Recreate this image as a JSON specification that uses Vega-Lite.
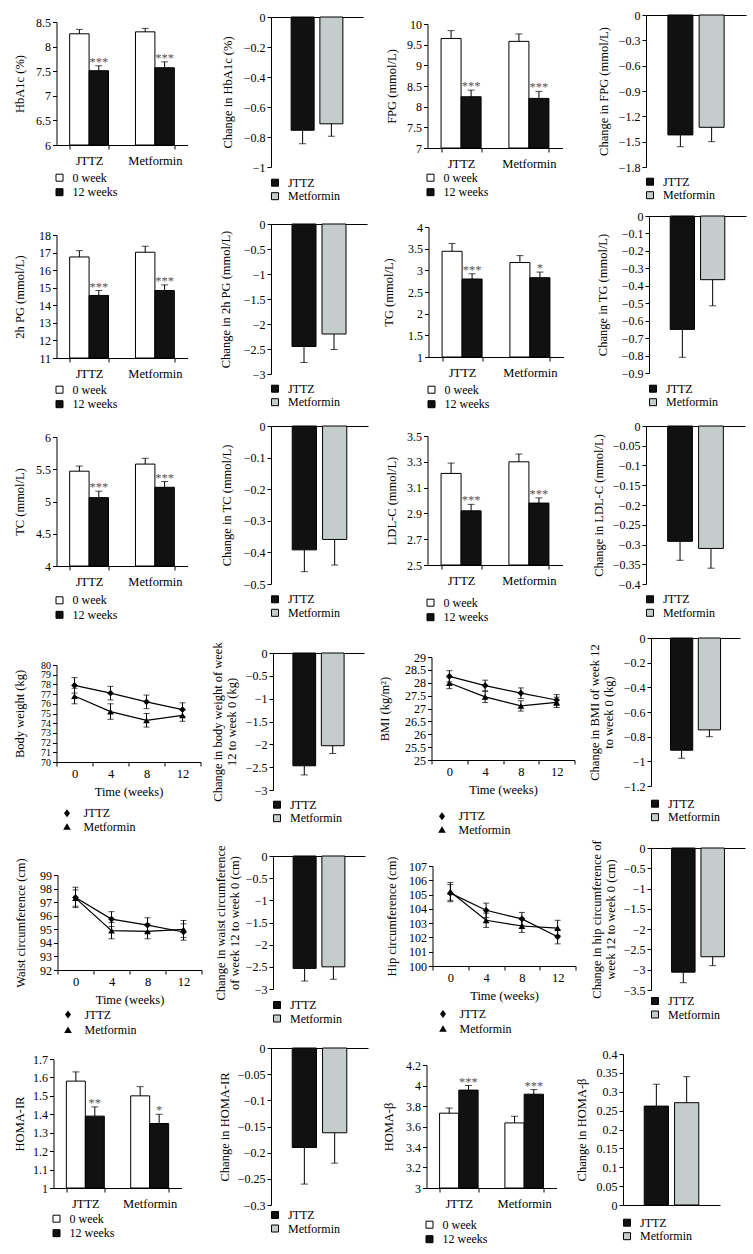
{
"$schema": "https://vega.github.io/schema/vega-lite/v6.json",
"padding": {"left": 12.5, "top": 0, "right": 0, "bottom": 0},
"autosize": {"type": "pad"},
"background": "white",
"config": {
  "font": "Liberation Serif",
  "view": {"stroke": null},
  "axis": {"domainColor": "#000000", "tickColor": "#000000", "labelColor": "#000000", "titleColor": "#000000", "labelFont": "Liberation Serif", "titleFont": "Liberation Serif", "labelFontSize": 12, "titleFontSize": 12.5, "titleFontWeight": "normal", "grid": false, "tickSize": 4, "labelPadding": 2, "labelOverlap": false, "domainWidth": 1, "tickWidth": 1, "titleLineHeight": 14},
  "legend": {"labelFont": "Liberation Serif", "labelFontSize": 12, "labelColor": "#000000", "symbolType": "square", "symbolStrokeColor": "#000000", "symbolStrokeWidth": 1, "padding": 0, "direction": "vertical"}
},
"datasets": {
  "grouped": [
    {"panel":"HbA1c","group":"JTTZ","time":"0 week","value":8.26,"top":8.35,"sig":""},
    {"panel":"HbA1c","group":"JTTZ","time":"12 weeks","value":7.51,"top":7.61,"sig":"***"},
    {"panel":"HbA1c","group":"Metformin","time":"0 week","value":8.30,"top":8.37,"sig":""},
    {"panel":"HbA1c","group":"Metformin","time":"12 weeks","value":7.57,"top":7.69,"sig":"***"},
    {"panel":"FPG","group":"JTTZ","time":"0 week","value":9.65,"top":9.84,"sig":""},
    {"panel":"FPG","group":"JTTZ","time":"12 weeks","value":8.24,"top":8.40,"sig":"***"},
    {"panel":"FPG","group":"Metformin","time":"0 week","value":9.58,"top":9.76,"sig":""},
    {"panel":"FPG","group":"Metformin","time":"12 weeks","value":8.20,"top":8.37,"sig":"***"},
    {"panel":"2hPG","group":"JTTZ","time":"0 week","value":16.75,"top":17.11,"sig":""},
    {"panel":"2hPG","group":"JTTZ","time":"12 weeks","value":14.56,"top":14.84,"sig":"***"},
    {"panel":"2hPG","group":"Metformin","time":"0 week","value":17.02,"top":17.36,"sig":""},
    {"panel":"2hPG","group":"Metformin","time":"12 weeks","value":14.84,"top":15.16,"sig":"***"},
    {"panel":"TG","group":"JTTZ","time":"0 week","value":3.44,"top":3.62,"sig":""},
    {"panel":"TG","group":"JTTZ","time":"12 weeks","value":2.80,"top":2.92,"sig":"***"},
    {"panel":"TG","group":"Metformin","time":"0 week","value":3.18,"top":3.34,"sig":""},
    {"panel":"TG","group":"Metformin","time":"12 weeks","value":2.83,"top":2.96,"sig":"*"},
    {"panel":"TC","group":"JTTZ","time":"0 week","value":5.47,"top":5.55,"sig":""},
    {"panel":"TC","group":"JTTZ","time":"12 weeks","value":5.06,"top":5.16,"sig":"***"},
    {"panel":"TC","group":"Metformin","time":"0 week","value":5.58,"top":5.67,"sig":""},
    {"panel":"TC","group":"Metformin","time":"12 weeks","value":5.22,"top":5.31,"sig":"***"},
    {"panel":"LDL","group":"JTTZ","time":"0 week","value":3.21,"top":3.29,"sig":""},
    {"panel":"LDL","group":"JTTZ","time":"12 weeks","value":2.92,"top":2.97,"sig":"***"},
    {"panel":"LDL","group":"Metformin","time":"0 week","value":3.30,"top":3.36,"sig":""},
    {"panel":"LDL","group":"Metformin","time":"12 weeks","value":2.98,"top":3.02,"sig":"***"},
    {"panel":"HOMAIR","group":"JTTZ","time":"0 week","value":1.58,"top":1.63,"sig":""},
    {"panel":"HOMAIR","group":"JTTZ","time":"12 weeks","value":1.39,"top":1.44,"sig":"**"},
    {"panel":"HOMAIR","group":"Metformin","time":"0 week","value":1.50,"top":1.55,"sig":""},
    {"panel":"HOMAIR","group":"Metformin","time":"12 weeks","value":1.35,"top":1.40,"sig":"*"},
    {"panel":"HOMAB","group":"JTTZ","time":"0 week","value":3.73,"top":3.78,"sig":""},
    {"panel":"HOMAB","group":"JTTZ","time":"12 weeks","value":3.955,"top":4.00,"sig":"***"},
    {"panel":"HOMAB","group":"Metformin","time":"0 week","value":3.635,"top":3.70,"sig":""},
    {"panel":"HOMAB","group":"Metformin","time":"12 weeks","value":3.915,"top":3.96,"sig":"***"}
  ],
  "change": [
    {"panel":"HbA1c","group":"JTTZ","value":-0.755,"end":-0.845},
    {"panel":"HbA1c","group":"Metformin","value":-0.712,"end":-0.795},
    {"panel":"FPG","group":"JTTZ","value":-1.42,"end":-1.56},
    {"panel":"FPG","group":"Metformin","value":-1.33,"end":-1.50},
    {"panel":"2hPG","group":"JTTZ","value":-2.45,"end":-2.77},
    {"panel":"2hPG","group":"Metformin","value":-2.20,"end":-2.51},
    {"panel":"TG","group":"JTTZ","value":-0.65,"end":-0.81},
    {"panel":"TG","group":"Metformin","value":-0.365,"end":-0.515},
    {"panel":"TC","group":"JTTZ","value":-0.392,"end":-0.461},
    {"panel":"TC","group":"Metformin","value":-0.359,"end":-0.44},
    {"panel":"LDL","group":"JTTZ","value":-0.292,"end":-0.34},
    {"panel":"LDL","group":"Metformin","value":-0.31,"end":-0.36},
    {"panel":"BW","group":"JTTZ","value":-2.47,"end":-2.67},
    {"panel":"BW","group":"Metformin","value":-2.03,"end":-2.20},
    {"panel":"BMI","group":"JTTZ","value":-0.91,"end":-0.975},
    {"panel":"BMI","group":"Metformin","value":-0.745,"end":-0.80},
    {"panel":"Waist","group":"JTTZ","value":-2.535,"end":-2.82},
    {"panel":"Waist","group":"Metformin","value":-2.50,"end":-2.78},
    {"panel":"Hip","group":"JTTZ","value":-3.06,"end":-3.32},
    {"panel":"Hip","group":"Metformin","value":-2.68,"end":-2.90},
    {"panel":"HOMAIR","group":"JTTZ","value":-0.19,"end":-0.26},
    {"panel":"HOMAIR","group":"Metformin","value":-0.162,"end":-0.22},
    {"panel":"HOMAB","group":"JTTZ","value":0.262,"end":0.32},
    {"panel":"HOMAB","group":"Metformin","value":0.271,"end":0.34}
  ],
  "lines": [
    {"panel":"BW","week":0,"group":"JTTZ","value":77.9,"lo":77.1,"hi":78.7},
    {"panel":"BW","week":4,"group":"JTTZ","value":77.1,"lo":76.4,"hi":77.8},
    {"panel":"BW","week":8,"group":"JTTZ","value":76.2,"lo":75.5,"hi":76.9},
    {"panel":"BW","week":12,"group":"JTTZ","value":75.4,"lo":74.7,"hi":76.1},
    {"panel":"BW","week":0,"group":"Metformin","value":76.8,"lo":76.0,"hi":77.6},
    {"panel":"BW","week":4,"group":"Metformin","value":75.2,"lo":74.4,"hi":76.0},
    {"panel":"BW","week":8,"group":"Metformin","value":74.3,"lo":73.6,"hi":75.0},
    {"panel":"BW","week":12,"group":"Metformin","value":74.8,"lo":74.2,"hi":75.4},
    {"panel":"BMI","week":0,"group":"JTTZ","value":28.25,"lo":28.03,"hi":28.47},
    {"panel":"BMI","week":4,"group":"JTTZ","value":27.89,"lo":27.68,"hi":28.1},
    {"panel":"BMI","week":8,"group":"JTTZ","value":27.6,"lo":27.39,"hi":27.8},
    {"panel":"BMI","week":12,"group":"JTTZ","value":27.33,"lo":27.12,"hi":27.54},
    {"panel":"BMI","week":0,"group":"Metformin","value":27.99,"lo":27.77,"hi":28.21},
    {"panel":"BMI","week":4,"group":"Metformin","value":27.45,"lo":27.23,"hi":27.67},
    {"panel":"BMI","week":8,"group":"Metformin","value":27.1,"lo":26.9,"hi":27.3},
    {"panel":"BMI","week":12,"group":"Metformin","value":27.24,"lo":27.04,"hi":27.44},
    {"panel":"Waist","week":0,"group":"JTTZ","value":97.35,"lo":96.6,"hi":98.1},
    {"panel":"Waist","week":4,"group":"JTTZ","value":95.75,"lo":95.2,"hi":96.3},
    {"panel":"Waist","week":8,"group":"JTTZ","value":95.3,"lo":94.8,"hi":95.85},
    {"panel":"Waist","week":12,"group":"JTTZ","value":94.8,"lo":94.2,"hi":95.4},
    {"panel":"Waist","week":0,"group":"Metformin","value":97.3,"lo":96.7,"hi":97.9},
    {"panel":"Waist","week":4,"group":"Metformin","value":94.9,"lo":94.3,"hi":95.5},
    {"panel":"Waist","week":8,"group":"Metformin","value":94.85,"lo":94.3,"hi":95.4},
    {"panel":"Waist","week":12,"group":"Metformin","value":95.0,"lo":94.4,"hi":95.65},
    {"panel":"Hip","week":0,"group":"JTTZ","value":105.1,"lo":104.5,"hi":105.7},
    {"panel":"Hip","week":4,"group":"JTTZ","value":103.9,"lo":103.4,"hi":104.4},
    {"panel":"Hip","week":8,"group":"JTTZ","value":103.3,"lo":102.85,"hi":103.75},
    {"panel":"Hip","week":12,"group":"JTTZ","value":102.05,"lo":101.55,"hi":102.55},
    {"panel":"Hip","week":0,"group":"Metformin","value":105.2,"lo":104.6,"hi":105.85},
    {"panel":"Hip","week":4,"group":"Metformin","value":103.2,"lo":102.7,"hi":103.7},
    {"panel":"Hip","week":8,"group":"Metformin","value":102.8,"lo":102.35,"hi":103.25},
    {"panel":"Hip","week":12,"group":"Metformin","value":102.65,"lo":102.15,"hi":103.2}
  ],
  "blank": [{"k": 1}]
},
"spacing": 0,
"resolve": {"scale": {"fill": "independent", "shape": "independent", "xOffset": "independent", "opacity": "independent", "strokeWidth": "independent", "strokeDash": "independent"}},
"vconcat": [
{"spacing": 0, "resolve": {"scale": {"fill": "independent", "shape": "independent", "xOffset": "independent", "opacity": "independent", "strokeWidth": "independent", "strokeDash": "independent"}}, "hconcat": [
 {"width": 1, "height": 206.5, "data": {"name": "blank"}, "mark": {"type": "point", "opacity": 0, "size": 0, "strokeWidth": 0}},
 {"spacing": 33.5, "resolve": {"scale": {"fill": "independent", "shape": "independent", "xOffset": "independent", "opacity": "independent", "strokeWidth": "independent", "strokeDash": "independent"}}, "hconcat": [
 {"spacing": 0, "resolve": {"scale": {"fill": "independent", "shape": "independent", "xOffset": "independent", "opacity": "independent", "strokeWidth": "independent", "strokeDash": "independent"}}, "vconcat": [
  {"width": 1, "height": 15.8, "data": {"name": "blank"}, "mark": {"type": "point", "opacity": 0, "size": 0, "strokeWidth": 0}},
  {"width": 131, "height": 123,
   "data": {"name": "grouped"}, "transform": [{"filter": "datum.panel == 'HbA1c'"}],
   "encoding": {"x": {"field": "group", "type": "nominal", "sort": ["JTTZ", "Metformin"], "scale": {"paddingInner": 0.41, "paddingOuter": 0.2}, "axis": {"title": null, "labelAngle": 0, "tickBand": "extent", "labelPadding": 5, "labelFontSize": 12.5}},
                "xOffset": {"field": "time", "type": "nominal", "sort": ["0 week", "12 weeks"]}},
   "layer": [
    {"mark": {"type": "bar", "stroke": "#000000", "strokeWidth": 1}, "encoding": {"y": {"field": "value", "type": "quantitative", "scale": {"domain": [6, 8.5], "nice": false, "zero": false}, "axis": {"title": "HbA1c (%)", "values": [6, 6.5, 7, 7.5, 8, 8.5], "tickCount": 100, "format": ".2~f", "labelOverlap": false, "minExtent": 30, "maxExtent": 30, "titlePadding": 0}}, "y2": {"datum": 6},
      "fill": {"field": "time", "type": "nominal", "sort": ["0 week", "12 weeks"], "scale": {"range": ["#ffffff", "#111111"]}, "legend": {"title": null, "orient": "none", "legendX": -3, "legendY": 149.7, "rowPadding": 2.5, "labelOffset": 7, "symbolSize": 49}}}},
    {"mark": {"type": "rule", "color": "#000000"}, "encoding": {"y": {"field": "value", "type": "quantitative"}, "y2": {"field": "top"}}},
    {"mark": {"type": "tick", "color": "#000000", "size": 7, "thickness": 1}, "encoding": {"y": {"field": "top", "type": "quantitative"}}},
    {"transform": [{"filter": "datum.sig != ''"}], "mark": {"type": "text", "baseline": "alphabetic", "fontSize": 12.5, "color": "#555555", "font": "Liberation Serif"}, "encoding": {"y": {"field": "top", "type": "quantitative"}, "text": {"field": "sig", "type": "nominal"}}}
   ]}
 ]},
 {"spacing": 22.5, "resolve": {"scale": {"fill": "independent", "shape": "independent", "xOffset": "independent", "opacity": "independent", "strokeWidth": "independent", "strokeDash": "independent"}}, "hconcat": [
  {"spacing": 0, "resolve": {"scale": {"fill": "independent", "shape": "independent", "xOffset": "independent", "opacity": "independent", "strokeWidth": "independent", "strokeDash": "independent"}}, "vconcat": [
   {"width": 1, "height": 10.8, "data": {"name": "blank"}, "mark": {"type": "point", "opacity": 0, "size": 0, "strokeWidth": 0}},
   {"width": 92, "height": 150,
    "data": {"name": "change"}, "transform": [{"filter": "datum.panel == 'HbA1c'"}],
    "encoding": {"x": {"field": "group", "type": "nominal", "sort": ["JTTZ", "Metformin"], "scale": {"paddingInner": 0.2, "paddingOuter": 0.7}, "axis": {"orient": "top", "title": null, "labels": false, "ticks": false}}},
    "layer": [
     {"mark": {"type": "bar", "stroke": "#000000", "strokeWidth": 1}, "encoding": {"y": {"field": "value", "type": "quantitative", "scale": {"domain": [-1, 0], "nice": false}, "axis": {"title": "Change in HbA1c (%)", "values": [0, -0.2, -0.4, -0.6, -0.8, -1], "tickCount": 100, "format": ".2~f", "labelOverlap": false, "minExtent": 37, "maxExtent": 37, "titlePadding": 0}},
       "fill": {"field": "group", "type": "nominal", "sort": ["JTTZ", "Metformin"], "scale": {"range": ["#111111", "#c5cdcc"]}, "legend": {"title": null, "orient": "none", "legendX": -2, "legendY": 159.7, "rowPadding": 1.5, "labelOffset": 7, "symbolSize": 49}}}},
     {"mark": {"type": "rule", "color": "#000000"}, "encoding": {"y": {"field": "value", "type": "quantitative"}, "y2": {"field": "end"}}},
     {"mark": {"type": "tick", "color": "#000000", "size": 7, "thickness": 1}, "encoding": {"y": {"field": "end", "type": "quantitative"}}}
    ]}
  ]},
  {"spacing": 33.5, "resolve": {"scale": {"fill": "independent", "shape": "independent", "xOffset": "independent", "opacity": "independent", "strokeWidth": "independent", "strokeDash": "independent"}}, "hconcat": [
   {"spacing": 0, "resolve": {"scale": {"fill": "independent", "shape": "independent", "xOffset": "independent", "opacity": "independent", "strokeWidth": "independent", "strokeDash": "independent"}}, "vconcat": [
    {"width": 1, "height": 17.8, "data": {"name": "blank"}, "mark": {"type": "point", "opacity": 0, "size": 0, "strokeWidth": 0}},
    {"width": 135, "height": 124,
     "data": {"name": "grouped"}, "transform": [{"filter": "datum.panel == 'FPG'"}],
     "encoding": {"x": {"field": "group", "type": "nominal", "sort": ["JTTZ", "Metformin"], "scale": {"paddingInner": 0.41, "paddingOuter": 0.2}, "axis": {"title": null, "labelAngle": 0, "tickBand": "extent", "labelPadding": 5, "labelFontSize": 12.5}},
                  "xOffset": {"field": "time", "type": "nominal", "sort": ["0 week", "12 weeks"]}},
     "layer": [
      {"mark": {"type": "bar", "stroke": "#000000", "strokeWidth": 1}, "encoding": {"y": {"field": "value", "type": "quantitative", "scale": {"domain": [7, 10], "nice": false, "zero": false}, "axis": {"title": "FPG (mmol/L)", "values": [7, 7.5, 8, 8.5, 9, 9.5, 10], "tickCount": 100, "format": ".2~f", "labelOverlap": false, "minExtent": 29, "maxExtent": 29, "titlePadding": 0}}, "y2": {"datum": 7},
        "fill": {"field": "time", "type": "nominal", "sort": ["0 week", "12 weeks"], "scale": {"range": ["#ffffff", "#111111"]}, "legend": {"title": null, "orient": "none", "legendX": -3, "legendY": 147.7, "rowPadding": 2.5, "labelOffset": 7, "symbolSize": 49}}}},
      {"mark": {"type": "rule", "color": "#000000"}, "encoding": {"y": {"field": "value", "type": "quantitative"}, "y2": {"field": "top"}}},
      {"mark": {"type": "tick", "color": "#000000", "size": 7, "thickness": 1}, "encoding": {"y": {"field": "top", "type": "quantitative"}}},
      {"transform": [{"filter": "datum.sig != ''"}], "mark": {"type": "text", "baseline": "alphabetic", "fontSize": 12.5, "color": "#555555", "font": "Liberation Serif"}, "encoding": {"y": {"field": "top", "type": "quantitative"}, "text": {"field": "sig", "type": "nominal"}}}
     ]}
   ]},
   {"spacing": 0, "resolve": {"scale": {"fill": "independent", "shape": "independent", "xOffset": "independent", "opacity": "independent", "strokeWidth": "independent", "strokeDash": "independent"}}, "vconcat": [
    {"width": 1, "height": 8.8, "data": {"name": "blank"}, "mark": {"type": "point", "opacity": 0, "size": 0, "strokeWidth": 0}},
    {"width": 100, "height": 152,
     "data": {"name": "change"}, "transform": [{"filter": "datum.panel == 'FPG'"}],
     "encoding": {"x": {"field": "group", "type": "nominal", "sort": ["JTTZ", "Metformin"], "scale": {"paddingInner": 0.2, "paddingOuter": 0.7}, "axis": {"orient": "top", "title": null, "labels": false, "ticks": false}}},
     "layer": [
      {"mark": {"type": "bar", "stroke": "#000000", "strokeWidth": 1}, "encoding": {"y": {"field": "value", "type": "quantitative", "scale": {"domain": [-1.8, 0], "nice": false}, "axis": {"title": "Change in FPG (mmol/L)", "values": [0, -0.3, -0.6, -0.9, -1.2, -1.5, -1.8], "tickCount": 100, "format": ".2~f", "labelOverlap": false, "minExtent": 36, "maxExtent": 36, "titlePadding": 0}},
        "fill": {"field": "group", "type": "nominal", "sort": ["JTTZ", "Metformin"], "scale": {"range": ["#111111", "#c5cdcc"]}, "legend": {"title": null, "orient": "none", "legendX": -2, "legendY": 160.7, "rowPadding": 1.5, "labelOffset": 7, "symbolSize": 49}}}},
      {"mark": {"type": "rule", "color": "#000000"}, "encoding": {"y": {"field": "value", "type": "quantitative"}, "y2": {"field": "end"}}},
      {"mark": {"type": "tick", "color": "#000000", "size": 7, "thickness": 1}, "encoding": {"y": {"field": "end", "type": "quantitative"}}}
     ]}
   ]}
  ]}
 ]}
 ]}
]},
{"spacing": 0, "resolve": {"scale": {"fill": "independent", "shape": "independent", "xOffset": "independent", "opacity": "independent", "strokeWidth": "independent", "strokeDash": "independent"}}, "hconcat": [
 {"width": 1, "height": 206.5, "data": {"name": "blank"}, "mark": {"type": "point", "opacity": 0, "size": 0, "strokeWidth": 0}},
 {"spacing": 30.5, "resolve": {"scale": {"fill": "independent", "shape": "independent", "xOffset": "independent", "opacity": "independent", "strokeWidth": "independent", "strokeDash": "independent"}}, "hconcat": [
 {"spacing": 0, "resolve": {"scale": {"fill": "independent", "shape": "independent", "xOffset": "independent", "opacity": "independent", "strokeWidth": "independent", "strokeDash": "independent"}}, "vconcat": [
  {"width": 1, "height": 21.8, "data": {"name": "blank"}, "mark": {"type": "point", "opacity": 0, "size": 0, "strokeWidth": 0}},
  {"width": 131, "height": 123,
   "data": {"name": "grouped"}, "transform": [{"filter": "datum.panel == '2hPG'"}],
   "encoding": {"x": {"field": "group", "type": "nominal", "sort": ["JTTZ", "Metformin"], "scale": {"paddingInner": 0.41, "paddingOuter": 0.2}, "axis": {"title": null, "labelAngle": 0, "tickBand": "extent", "labelPadding": 5, "labelFontSize": 12.5}},
                "xOffset": {"field": "time", "type": "nominal", "sort": ["0 week", "12 weeks"]}},
   "layer": [
    {"mark": {"type": "bar", "stroke": "#000000", "strokeWidth": 1}, "encoding": {"y": {"field": "value", "type": "quantitative", "scale": {"domain": [11, 18], "nice": false, "zero": false}, "axis": {"title": "2h PG (mmol/L)", "values": [11, 12, 13, 14, 15, 16, 17, 18], "tickCount": 100, "format": ".2~f", "labelOverlap": false, "minExtent": 30, "maxExtent": 30, "titlePadding": 0}}, "y2": {"datum": 11},
      "fill": {"field": "time", "type": "nominal", "sort": ["0 week", "12 weeks"], "scale": {"range": ["#ffffff", "#111111"]}, "legend": {"title": null, "orient": "none", "legendX": -3, "legendY": 148.7, "rowPadding": 2.5, "labelOffset": 7, "symbolSize": 49}}}},
    {"mark": {"type": "rule", "color": "#000000"}, "encoding": {"y": {"field": "value", "type": "quantitative"}, "y2": {"field": "top"}}},
    {"mark": {"type": "tick", "color": "#000000", "size": 7, "thickness": 1}, "encoding": {"y": {"field": "top", "type": "quantitative"}}},
    {"transform": [{"filter": "datum.sig != ''"}], "mark": {"type": "text", "baseline": "alphabetic", "fontSize": 12.5, "color": "#555555", "font": "Liberation Serif"}, "encoding": {"y": {"field": "top", "type": "quantitative"}, "text": {"field": "sig", "type": "nominal"}}}
   ]}
 ]},
 {"spacing": 15.5, "resolve": {"scale": {"fill": "independent", "shape": "independent", "xOffset": "independent", "opacity": "independent", "strokeWidth": "independent", "strokeDash": "independent"}}, "hconcat": [
  {"spacing": 0, "resolve": {"scale": {"fill": "independent", "shape": "independent", "xOffset": "independent", "opacity": "independent", "strokeWidth": "independent", "strokeDash": "independent"}}, "vconcat": [
   {"width": 1, "height": 10.8, "data": {"name": "blank"}, "mark": {"type": "point", "opacity": 0, "size": 0, "strokeWidth": 0}},
   {"width": 96, "height": 150,
    "data": {"name": "change"}, "transform": [{"filter": "datum.panel == '2hPG'"}],
    "encoding": {"x": {"field": "group", "type": "nominal", "sort": ["JTTZ", "Metformin"], "scale": {"paddingInner": 0.2, "paddingOuter": 0.7}, "axis": {"orient": "top", "title": null, "labels": false, "ticks": false}}},
    "layer": [
     {"mark": {"type": "bar", "stroke": "#000000", "strokeWidth": 1}, "encoding": {"y": {"field": "value", "type": "quantitative", "scale": {"domain": [-3, 0], "nice": false}, "axis": {"title": "Change in 2h PG (mmol/L)", "values": [0, -0.5, -1, -1.5, -2, -2.5, -3], "tickCount": 100, "format": ".2~f", "labelOverlap": false, "minExtent": 39, "maxExtent": 39, "titlePadding": 0}},
       "fill": {"field": "group", "type": "nominal", "sort": ["JTTZ", "Metformin"], "scale": {"range": ["#111111", "#c5cdcc"]}, "legend": {"title": null, "orient": "none", "legendX": -2, "legendY": 158.7, "rowPadding": 1.5, "labelOffset": 7, "symbolSize": 49}}}},
     {"mark": {"type": "rule", "color": "#000000"}, "encoding": {"y": {"field": "value", "type": "quantitative"}, "y2": {"field": "end"}}},
     {"mark": {"type": "tick", "color": "#000000", "size": 7, "thickness": 1}, "encoding": {"y": {"field": "end", "type": "quantitative"}}}
    ]}
  ]},
  {"spacing": 32.5, "resolve": {"scale": {"fill": "independent", "shape": "independent", "xOffset": "independent", "opacity": "independent", "strokeWidth": "independent", "strokeDash": "independent"}}, "hconcat": [
   {"spacing": 0, "resolve": {"scale": {"fill": "independent", "shape": "independent", "xOffset": "independent", "opacity": "independent", "strokeWidth": "independent", "strokeDash": "independent"}}, "vconcat": [
    {"width": 1, "height": 13.8, "data": {"name": "blank"}, "mark": {"type": "point", "opacity": 0, "size": 0, "strokeWidth": 0}},
    {"width": 135, "height": 130,
     "data": {"name": "grouped"}, "transform": [{"filter": "datum.panel == 'TG'"}],
     "encoding": {"x": {"field": "group", "type": "nominal", "sort": ["JTTZ", "Metformin"], "scale": {"paddingInner": 0.41, "paddingOuter": 0.2}, "axis": {"title": null, "labelAngle": 0, "tickBand": "extent", "labelPadding": 5, "labelFontSize": 12.5}},
                  "xOffset": {"field": "time", "type": "nominal", "sort": ["0 week", "12 weeks"]}},
     "layer": [
      {"mark": {"type": "bar", "stroke": "#000000", "strokeWidth": 1}, "encoding": {"y": {"field": "value", "type": "quantitative", "scale": {"domain": [1, 4], "nice": false, "zero": false}, "axis": {"title": "TG (mmol/L)", "values": [1, 1.5, 2, 2.5, 3, 3.5, 4], "tickCount": 100, "format": ".2~f", "labelOverlap": false, "minExtent": 33, "maxExtent": 33, "titlePadding": 0}}, "y2": {"datum": 1},
        "fill": {"field": "time", "type": "nominal", "sort": ["0 week", "12 weeks"], "scale": {"range": ["#ffffff", "#111111"]}, "legend": {"title": null, "orient": "none", "legendX": -3, "legendY": 156.7, "rowPadding": 2.5, "labelOffset": 7, "symbolSize": 49}}}},
      {"mark": {"type": "rule", "color": "#000000"}, "encoding": {"y": {"field": "value", "type": "quantitative"}, "y2": {"field": "top"}}},
      {"mark": {"type": "tick", "color": "#000000", "size": 7, "thickness": 1}, "encoding": {"y": {"field": "top", "type": "quantitative"}}},
      {"transform": [{"filter": "datum.sig != ''"}], "mark": {"type": "text", "baseline": "alphabetic", "fontSize": 12.5, "color": "#555555", "font": "Liberation Serif"}, "encoding": {"y": {"field": "top", "type": "quantitative"}, "text": {"field": "sig", "type": "nominal"}}}
     ]}
   ]},
   {"spacing": 0, "resolve": {"scale": {"fill": "independent", "shape": "independent", "xOffset": "independent", "opacity": "independent", "strokeWidth": "independent", "strokeDash": "independent"}}, "vconcat": [
    {"width": 1, "height": 2.8, "data": {"name": "blank"}, "mark": {"type": "point", "opacity": 0, "size": 0, "strokeWidth": 0}},
    {"width": 97, "height": 157,
     "data": {"name": "change"}, "transform": [{"filter": "datum.panel == 'TG'"}],
     "encoding": {"x": {"field": "group", "type": "nominal", "sort": ["JTTZ", "Metformin"], "scale": {"paddingInner": 0.2, "paddingOuter": 0.7}, "axis": {"orient": "top", "title": null, "labels": false, "ticks": false}}},
     "layer": [
      {"mark": {"type": "bar", "stroke": "#000000", "strokeWidth": 1}, "encoding": {"y": {"field": "value", "type": "quantitative", "scale": {"domain": [-0.9, 0], "nice": false}, "axis": {"title": "Change in TG (mmol/L)", "values": [0, -0.1, -0.2, -0.3, -0.4, -0.5, -0.6, -0.7, -0.8, -0.9], "tickCount": 100, "format": ".2~f", "labelOverlap": false, "minExtent": 40, "maxExtent": 40, "titlePadding": 0}},
        "fill": {"field": "group", "type": "nominal", "sort": ["JTTZ", "Metformin"], "scale": {"range": ["#111111", "#c5cdcc"]}, "legend": {"title": null, "orient": "none", "legendX": -2, "legendY": 166.7, "rowPadding": 1.5, "labelOffset": 7, "symbolSize": 49}}}},
      {"mark": {"type": "rule", "color": "#000000"}, "encoding": {"y": {"field": "value", "type": "quantitative"}, "y2": {"field": "end"}}},
      {"mark": {"type": "tick", "color": "#000000", "size": 7, "thickness": 1}, "encoding": {"y": {"field": "end", "type": "quantitative"}}}
     ]}
   ]}
  ]}
 ]}
 ]}
]},
{"spacing": 0, "resolve": {"scale": {"fill": "independent", "shape": "independent", "xOffset": "independent", "opacity": "independent", "strokeWidth": "independent", "strokeDash": "independent"}}, "hconcat": [
 {"width": 1, "height": 214, "data": {"name": "blank"}, "mark": {"type": "point", "opacity": 0, "size": 0, "strokeWidth": 0}},
 {"spacing": 32.5, "resolve": {"scale": {"fill": "independent", "shape": "independent", "xOffset": "independent", "opacity": "independent", "strokeWidth": "independent", "strokeDash": "independent"}}, "hconcat": [
 {"spacing": 0, "resolve": {"scale": {"fill": "independent", "shape": "independent", "xOffset": "independent", "opacity": "independent", "strokeWidth": "independent", "strokeDash": "independent"}}, "vconcat": [
  {"width": 1, "height": 16.8, "data": {"name": "blank"}, "mark": {"type": "point", "opacity": 0, "size": 0, "strokeWidth": 0}},
  {"width": 131, "height": 129,
   "data": {"name": "grouped"}, "transform": [{"filter": "datum.panel == 'TC'"}],
   "encoding": {"x": {"field": "group", "type": "nominal", "sort": ["JTTZ", "Metformin"], "scale": {"paddingInner": 0.41, "paddingOuter": 0.2}, "axis": {"title": null, "labelAngle": 0, "tickBand": "extent", "labelPadding": 5, "labelFontSize": 12.5}},
                "xOffset": {"field": "time", "type": "nominal", "sort": ["0 week", "12 weeks"]}},
   "layer": [
    {"mark": {"type": "bar", "stroke": "#000000", "strokeWidth": 1}, "encoding": {"y": {"field": "value", "type": "quantitative", "scale": {"domain": [4, 6], "nice": false, "zero": false}, "axis": {"title": "TC (mmol/L)", "values": [4, 4.5, 5, 5.5, 6], "tickCount": 100, "format": ".2~f", "labelOverlap": false, "minExtent": 30, "maxExtent": 30, "titlePadding": 0}}, "y2": {"datum": 4},
      "fill": {"field": "time", "type": "nominal", "sort": ["0 week", "12 weeks"], "scale": {"range": ["#ffffff", "#111111"]}, "legend": {"title": null, "orient": "none", "legendX": -3, "legendY": 157.3, "rowPadding": 2.5, "labelOffset": 7, "symbolSize": 49}}}},
    {"mark": {"type": "rule", "color": "#000000"}, "encoding": {"y": {"field": "value", "type": "quantitative"}, "y2": {"field": "top"}}},
    {"mark": {"type": "tick", "color": "#000000", "size": 7, "thickness": 1}, "encoding": {"y": {"field": "top", "type": "quantitative"}}},
    {"transform": [{"filter": "datum.sig != ''"}], "mark": {"type": "text", "baseline": "alphabetic", "fontSize": 12.5, "color": "#555555", "font": "Liberation Serif"}, "encoding": {"y": {"field": "top", "type": "quantitative"}, "text": {"field": "sig", "type": "nominal"}}}
   ]}
 ]},
 {"spacing": 17.5, "resolve": {"scale": {"fill": "independent", "shape": "independent", "xOffset": "independent", "opacity": "independent", "strokeWidth": "independent", "strokeDash": "independent"}}, "hconcat": [
  {"spacing": 0, "resolve": {"scale": {"fill": "independent", "shape": "independent", "xOffset": "independent", "opacity": "independent", "strokeWidth": "independent", "strokeDash": "independent"}}, "vconcat": [
   {"width": 1, "height": 5.8, "data": {"name": "blank"}, "mark": {"type": "point", "opacity": 0, "size": 0, "strokeWidth": 0}},
   {"width": 97, "height": 158,
    "data": {"name": "change"}, "transform": [{"filter": "datum.panel == 'TC'"}],
    "encoding": {"x": {"field": "group", "type": "nominal", "sort": ["JTTZ", "Metformin"], "scale": {"paddingInner": 0.2, "paddingOuter": 0.7}, "axis": {"orient": "top", "title": null, "labels": false, "ticks": false}}},
    "layer": [
     {"mark": {"type": "bar", "stroke": "#000000", "strokeWidth": 1}, "encoding": {"y": {"field": "value", "type": "quantitative", "scale": {"domain": [-0.5, 0], "nice": false}, "axis": {"title": "Change in TC (mmol/L)", "values": [0, -0.1, -0.2, -0.3, -0.4, -0.5], "tickCount": 100, "format": ".2~f", "labelOverlap": false, "minExtent": 38, "maxExtent": 38, "titlePadding": 0}},
       "fill": {"field": "group", "type": "nominal", "sort": ["JTTZ", "Metformin"], "scale": {"range": ["#111111", "#c5cdcc"]}, "legend": {"title": null, "orient": "none", "legendX": -2, "legendY": 167.3, "rowPadding": 1.5, "labelOffset": 7, "symbolSize": 49}}}},
     {"mark": {"type": "rule", "color": "#000000"}, "encoding": {"y": {"field": "value", "type": "quantitative"}, "y2": {"field": "end"}}},
     {"mark": {"type": "tick", "color": "#000000", "size": 7, "thickness": 1}, "encoding": {"y": {"field": "end", "type": "quantitative"}}}
    ]}
  ]},
  {"spacing": 29.5, "resolve": {"scale": {"fill": "independent", "shape": "independent", "xOffset": "independent", "opacity": "independent", "strokeWidth": "independent", "strokeDash": "independent"}}, "hconcat": [
   {"spacing": 0, "resolve": {"scale": {"fill": "independent", "shape": "independent", "xOffset": "independent", "opacity": "independent", "strokeWidth": "independent", "strokeDash": "independent"}}, "vconcat": [
    {"width": 1, "height": 15.8, "data": {"name": "blank"}, "mark": {"type": "point", "opacity": 0, "size": 0, "strokeWidth": 0}},
    {"width": 135, "height": 129,
     "data": {"name": "grouped"}, "transform": [{"filter": "datum.panel == 'LDL'"}],
     "encoding": {"x": {"field": "group", "type": "nominal", "sort": ["JTTZ", "Metformin"], "scale": {"paddingInner": 0.41, "paddingOuter": 0.2}, "axis": {"title": null, "labelAngle": 0, "tickBand": "extent", "labelPadding": 5, "labelFontSize": 12.5}},
                  "xOffset": {"field": "time", "type": "nominal", "sort": ["0 week", "12 weeks"]}},
     "layer": [
      {"mark": {"type": "bar", "stroke": "#000000", "strokeWidth": 1}, "encoding": {"y": {"field": "value", "type": "quantitative", "scale": {"domain": [2.5, 3.5], "nice": false, "zero": false}, "axis": {"title": "LDL-C (mmol/L)", "values": [2.5, 2.7, 2.9, 3.1, 3.3, 3.5], "tickCount": 100, "format": ".2~f", "labelOverlap": false, "minExtent": 29, "maxExtent": 29, "titlePadding": 0}}, "y2": {"datum": 2.5},
        "fill": {"field": "time", "type": "nominal", "sort": ["0 week", "12 weeks"], "scale": {"range": ["#ffffff", "#111111"]}, "legend": {"title": null, "orient": "none", "legendX": -3, "legendY": 160.7, "rowPadding": 2.5, "labelOffset": 7, "symbolSize": 49}}}},
      {"mark": {"type": "rule", "color": "#000000"}, "encoding": {"y": {"field": "value", "type": "quantitative"}, "y2": {"field": "top"}}},
      {"mark": {"type": "tick", "color": "#000000", "size": 7, "thickness": 1}, "encoding": {"y": {"field": "top", "type": "quantitative"}}},
      {"transform": [{"filter": "datum.sig != ''"}], "mark": {"type": "text", "baseline": "alphabetic", "fontSize": 12.5, "color": "#555555", "font": "Liberation Serif"}, "encoding": {"y": {"field": "top", "type": "quantitative"}, "text": {"field": "sig", "type": "nominal"}}}
     ]}
   ]},
   {"spacing": 0, "resolve": {"scale": {"fill": "independent", "shape": "independent", "xOffset": "independent", "opacity": "independent", "strokeWidth": "independent", "strokeDash": "independent"}}, "vconcat": [
    {"width": 1, "height": 5.8, "data": {"name": "blank"}, "mark": {"type": "point", "opacity": 0, "size": 0, "strokeWidth": 0}},
    {"width": 99, "height": 158,
     "data": {"name": "change"}, "transform": [{"filter": "datum.panel == 'LDL'"}],
     "encoding": {"x": {"field": "group", "type": "nominal", "sort": ["JTTZ", "Metformin"], "scale": {"paddingInner": 0.2, "paddingOuter": 0.7}, "axis": {"orient": "top", "title": null, "labels": false, "ticks": false}}},
     "layer": [
      {"mark": {"type": "bar", "stroke": "#000000", "strokeWidth": 1}, "encoding": {"y": {"field": "value", "type": "quantitative", "scale": {"domain": [-0.4, 0], "nice": false}, "axis": {"title": "Change in LDL-C (mmol/L)", "values": [0, -0.05, -0.1, -0.15, -0.2, -0.25, -0.3, -0.35, -0.4], "tickCount": 100, "format": ".2~f", "labelOverlap": false, "minExtent": 41, "maxExtent": 41, "titlePadding": 0}},
        "fill": {"field": "group", "type": "nominal", "sort": ["JTTZ", "Metformin"], "scale": {"range": ["#111111", "#c5cdcc"]}, "legend": {"title": null, "orient": "none", "legendX": -2, "legendY": 167.3, "rowPadding": 1.5, "labelOffset": 7, "symbolSize": 49}}}},
      {"mark": {"type": "rule", "color": "#000000"}, "encoding": {"y": {"field": "value", "type": "quantitative"}, "y2": {"field": "end"}}},
      {"mark": {"type": "tick", "color": "#000000", "size": 7, "thickness": 1}, "encoding": {"y": {"field": "end", "type": "quantitative"}}}
     ]}
   ]}
  ]}
 ]}
 ]}
]},
{"spacing": 0, "resolve": {"scale": {"fill": "independent", "shape": "independent", "xOffset": "independent", "opacity": "independent", "strokeWidth": "independent", "strokeDash": "independent"}}, "hconcat": [
 {"width": 1, "height": 210, "data": {"name": "blank"}, "mark": {"type": "point", "opacity": 0, "size": 0, "strokeWidth": 0}},
 {"spacing": 8.5, "resolve": {"scale": {"fill": "independent", "shape": "independent", "xOffset": "independent", "opacity": "independent", "strokeWidth": "independent", "strokeDash": "independent"}}, "hconcat": [
 {"spacing": 0, "resolve": {"scale": {"fill": "independent", "shape": "independent", "xOffset": "independent", "opacity": "independent", "strokeWidth": "independent", "strokeDash": "independent"}}, "vconcat": [
  {"width": 1, "height": 31.8, "data": {"name": "blank"}, "mark": {"type": "point", "opacity": 0, "size": 0, "strokeWidth": 0}},
  {"width": 144, "height": 97,
   "data": {"name": "lines"}, "transform": [{"filter": "datum.panel == 'BW'"}],
   "encoding": {"x": {"field": "week", "type": "ordinal", "scale": {"type": "band", "paddingInner": 0, "paddingOuter": 0}, "axis": {"title": "Time (weeks)", "labelAngle": 0, "tickBand": "extent", "labelPadding": 1.5, "titlePadding": 5, "labelFontSize": 12.5}}},
   "layer": [
    {"mark": {"type": "line", "color": "#000000", "strokeWidth": 1.2}, "encoding": {"y": {"field": "value", "type": "quantitative", "scale": {"domain": [70, 80], "nice": false, "zero": false}, "axis": {"title": "Body weight (kg)", "values": [70, 71, 72, 73, 74, 75, 76, 77, 78, 79, 80], "tickCount": 100, "format": ".2~f", "labelOverlap": false, "labelFontSize": 10, "minExtent": 30, "maxExtent": 30, "titlePadding": 0}}, "detail": {"field": "group", "type": "nominal"}}},
    {"mark": {"type": "rule", "color": "#000000"}, "encoding": {"y": {"field": "lo", "type": "quantitative"}, "y2": {"field": "hi"}}},
    {"mark": {"type": "tick", "color": "#000000", "size": 6, "thickness": 1}, "encoding": {"y": {"field": "lo", "type": "quantitative"}}},
    {"mark": {"type": "tick", "color": "#000000", "size": 6, "thickness": 1}, "encoding": {"y": {"field": "hi", "type": "quantitative"}}},
    {"mark": {"type": "point", "filled": true, "color": "#000000", "size": 45, "opacity": 1}, "encoding": {"y": {"field": "value", "type": "quantitative"},
      "shape": {"field": "group", "type": "nominal", "sort": ["JTTZ", "Metformin"], "scale": {"range": ["diamond", "triangle-up"]}, "legend": null}}},
    {"transform": [{"filter": "false"}], "mark": {"type": "point", "shape": "M-3,0L3,0M0,-1L0.75,0L0,1L-0.75,0Z", "filled": true, "fill": "#000000", "stroke": "#000000", "strokeWidth": 1.2, "size": 64, "opacity": 1},
     "encoding": {"strokeDash": {"field": "group", "type": "nominal", "scale": {"domain": ["JTTZ"], "range": [[1, 0]]}, "legend": {"title": null, "orient": "none", "legendX": 4.5, "legendY": 142.2, "labelOffset": 10.5, "symbolSize": 64, "symbolType": "M-3,0L3,0M0,-1L0.75,0L0,1L-0.75,0Z", "symbolStrokeWidth": 1.2, "symbolStrokeColor": "#000000", "symbolFillColor": "#000000"}}}},
    {"transform": [{"filter": "false"}], "mark": {"type": "point", "shape": "M-3,0L3,0M0,-0.85L0.95,0.75L-0.95,0.75Z", "filled": true, "fill": "#000000", "stroke": "#000000", "strokeWidth": 1.2, "size": 64, "opacity": 1},
     "encoding": {"strokeWidth": {"field": "group", "type": "ordinal", "scale": {"domain": ["Metformin"], "range": [1.2, 1.2]}, "legend": {"title": null, "orient": "none", "legendX": 4.5, "legendY": 155.7, "labelOffset": 10.5, "symbolSize": 64, "symbolType": "M-3,0L3,0M0,-0.85L0.95,0.75L-0.95,0.75Z", "symbolStrokeWidth": 1.2, "symbolStrokeColor": "#000000", "symbolFillColor": "#000000"}}}}
   ]}
 ]},
 {"spacing": 14.5, "resolve": {"scale": {"fill": "independent", "shape": "independent", "xOffset": "independent", "opacity": "independent", "strokeWidth": "independent", "strokeDash": "independent"}}, "hconcat": [
  {"spacing": 0, "resolve": {"scale": {"fill": "independent", "shape": "independent", "xOffset": "independent", "opacity": "independent", "strokeWidth": "independent", "strokeDash": "independent"}}, "vconcat": [
   {"width": 1, "height": 12.5, "data": {"name": "blank"}, "mark": {"type": "point", "opacity": 0, "size": 0, "strokeWidth": 0}},
   {"width": 91, "height": 137,
    "data": {"name": "change"}, "transform": [{"filter": "datum.panel == 'BW'"}],
    "encoding": {"x": {"field": "group", "type": "nominal", "sort": ["JTTZ", "Metformin"], "scale": {"paddingInner": 0.2, "paddingOuter": 0.7}, "axis": {"orient": "top", "title": null, "labels": false, "ticks": false}}},
    "layer": [
     {"mark": {"type": "bar", "stroke": "#000000", "strokeWidth": 1}, "encoding": {"y": {"field": "value", "type": "quantitative", "scale": {"domain": [-3, 0], "nice": false}, "axis": {"title": ["Change in body weight of week", "12 to week 0 (kg)"], "values": [0, -0.5, -1, -1.5, -2, -2.5, -3], "tickCount": 100, "format": ".2~f", "labelOverlap": false, "minExtent": 35, "maxExtent": 35, "titlePadding": 0}},
       "fill": {"field": "group", "type": "nominal", "sort": ["JTTZ", "Metformin"], "scale": {"range": ["#111111", "#c5cdcc"]}, "legend": {"title": null, "orient": "none", "legendX": -2, "legendY": 145.7, "rowPadding": 1.5, "labelOffset": 7, "symbolSize": 49}}}},
     {"mark": {"type": "rule", "color": "#000000"}, "encoding": {"y": {"field": "value", "type": "quantitative"}, "y2": {"field": "end"}}},
     {"mark": {"type": "tick", "color": "#000000", "size": 7, "thickness": 1}, "encoding": {"y": {"field": "end", "type": "quantitative"}}}
    ]}
  ]},
  {"spacing": 11.5, "resolve": {"scale": {"fill": "independent", "shape": "independent", "xOffset": "independent", "opacity": "independent", "strokeWidth": "independent", "strokeDash": "independent"}}, "hconcat": [
   {"spacing": 0, "resolve": {"scale": {"fill": "independent", "shape": "independent", "xOffset": "independent", "opacity": "independent", "strokeWidth": "independent", "strokeDash": "independent"}}, "vconcat": [
    {"width": 1, "height": 22.8, "data": {"name": "blank"}, "mark": {"type": "point", "opacity": 0, "size": 0, "strokeWidth": 0}},
    {"width": 143, "height": 103,
     "data": {"name": "lines"}, "transform": [{"filter": "datum.panel == 'BMI'"}],
     "encoding": {"x": {"field": "week", "type": "ordinal", "scale": {"type": "band", "paddingInner": 0, "paddingOuter": 0}, "axis": {"title": "Time (weeks)", "labelAngle": 0, "tickBand": "extent", "labelPadding": 1.5, "titlePadding": 5, "labelFontSize": 12.5}}},
     "layer": [
      {"mark": {"type": "line", "color": "#000000", "strokeWidth": 1.2}, "encoding": {"y": {"field": "value", "type": "quantitative", "scale": {"domain": [25, 29], "nice": false, "zero": false}, "axis": {"title": "BMI (kg/m²)", "values": [25, 25.5, 26, 26.5, 27, 27.5, 28, 28.5, 29], "tickCount": 100, "format": ".2~f", "labelOverlap": false, "minExtent": 40, "maxExtent": 40, "titlePadding": 0}}, "detail": {"field": "group", "type": "nominal"}}},
      {"mark": {"type": "rule", "color": "#000000"}, "encoding": {"y": {"field": "lo", "type": "quantitative"}, "y2": {"field": "hi"}}},
      {"mark": {"type": "tick", "color": "#000000", "size": 6, "thickness": 1}, "encoding": {"y": {"field": "lo", "type": "quantitative"}}},
      {"mark": {"type": "tick", "color": "#000000", "size": 6, "thickness": 1}, "encoding": {"y": {"field": "hi", "type": "quantitative"}}},
      {"mark": {"type": "point", "filled": true, "color": "#000000", "size": 45, "opacity": 1}, "encoding": {"y": {"field": "value", "type": "quantitative"},
        "shape": {"field": "group", "type": "nominal", "sort": ["JTTZ", "Metformin"], "scale": {"range": ["diamond", "triangle-up"]}, "legend": null}}},
      {"transform": [{"filter": "false"}], "mark": {"type": "point", "shape": "M-3,0L3,0M0,-1L0.75,0L0,1L-0.75,0Z", "filled": true, "fill": "#000000", "stroke": "#000000", "strokeWidth": 1.2, "size": 64, "opacity": 1},
       "encoding": {"strokeDash": {"field": "group", "type": "nominal", "scale": {"domain": ["JTTZ"], "range": [[1, 0]]}, "legend": {"title": null, "orient": "none", "legendX": 4.5, "legendY": 153.2, "labelOffset": 10.5, "symbolSize": 64, "symbolType": "M-3,0L3,0M0,-1L0.75,0L0,1L-0.75,0Z", "symbolStrokeWidth": 1.2, "symbolStrokeColor": "#000000", "symbolFillColor": "#000000"}}}},
      {"transform": [{"filter": "false"}], "mark": {"type": "point", "shape": "M-3,0L3,0M0,-0.85L0.95,0.75L-0.95,0.75Z", "filled": true, "fill": "#000000", "stroke": "#000000", "strokeWidth": 1.2, "size": 64, "opacity": 1},
       "encoding": {"strokeWidth": {"field": "group", "type": "ordinal", "scale": {"domain": ["Metformin"], "range": [1.2, 1.2]}, "legend": {"title": null, "orient": "none", "legendX": 4.5, "legendY": 166.7, "labelOffset": 10.5, "symbolSize": 64, "symbolType": "M-3,0L3,0M0,-0.85L0.95,0.75L-0.95,0.75Z", "symbolStrokeWidth": 1.2, "symbolStrokeColor": "#000000", "symbolFillColor": "#000000"}}}}
     ]}
   ]},
   {"spacing": 0, "resolve": {"scale": {"fill": "independent", "shape": "independent", "xOffset": "independent", "opacity": "independent", "strokeWidth": "independent", "strokeDash": "independent"}}, "vconcat": [
    {"width": 1, "height": 3.8, "data": {"name": "blank"}, "mark": {"type": "point", "opacity": 0, "size": 0, "strokeWidth": 0}},
    {"width": 89, "height": 148,
     "data": {"name": "change"}, "transform": [{"filter": "datum.panel == 'BMI'"}],
     "encoding": {"x": {"field": "group", "type": "nominal", "sort": ["JTTZ", "Metformin"], "scale": {"paddingInner": 0.2, "paddingOuter": 0.7}, "axis": {"orient": "top", "title": null, "labels": false, "ticks": false}}},
     "layer": [
      {"mark": {"type": "bar", "stroke": "#000000", "strokeWidth": 1}, "encoding": {"y": {"field": "value", "type": "quantitative", "scale": {"domain": [-1.2, 0], "nice": false}, "axis": {"title": ["Change in BMI of week 12", "to week 0 (kg)"], "values": [0, -0.2, -0.4, -0.6, -0.8, -1, -1.2], "tickCount": 100, "format": ".2~f", "labelOverlap": false, "minExtent": 36, "maxExtent": 36, "titlePadding": 0}},
        "fill": {"field": "group", "type": "nominal", "sort": ["JTTZ", "Metformin"], "scale": {"range": ["#111111", "#c5cdcc"]}, "legend": {"title": null, "orient": "none", "legendX": -2, "legendY": 159.7, "rowPadding": 1.5, "labelOffset": 7, "symbolSize": 49}}}},
      {"mark": {"type": "rule", "color": "#000000"}, "encoding": {"y": {"field": "value", "type": "quantitative"}, "y2": {"field": "end"}}},
      {"mark": {"type": "tick", "color": "#000000", "size": 7, "thickness": 1}, "encoding": {"y": {"field": "end", "type": "quantitative"}}}
     ]}
   ]}
  ]}
 ]}
 ]}
]},
{"spacing": 0, "resolve": {"scale": {"fill": "independent", "shape": "independent", "xOffset": "independent", "opacity": "independent", "strokeWidth": "independent", "strokeDash": "independent"}}, "hconcat": [
 {"width": 1, "height": 199.5, "data": {"name": "blank"}, "mark": {"type": "point", "opacity": 0, "size": 0, "strokeWidth": 0}},
 {"spacing": 10.5, "resolve": {"scale": {"fill": "independent", "shape": "independent", "xOffset": "independent", "opacity": "independent", "strokeWidth": "independent", "strokeDash": "independent"}}, "hconcat": [
 {"spacing": 0, "resolve": {"scale": {"fill": "independent", "shape": "independent", "xOffset": "independent", "opacity": "independent", "strokeWidth": "independent", "strokeDash": "independent"}}, "vconcat": [
  {"width": 1, "height": 18.2, "data": {"name": "blank"}, "mark": {"type": "point", "opacity": 0, "size": 0, "strokeWidth": 0}},
  {"width": 144, "height": 95,
   "data": {"name": "lines"}, "transform": [{"filter": "datum.panel == 'Waist'"}],
   "encoding": {"x": {"field": "week", "type": "ordinal", "scale": {"type": "band", "paddingInner": 0, "paddingOuter": 0}, "axis": {"title": "Time (weeks)", "labelAngle": 0, "tickBand": "extent", "labelPadding": 1.5, "titlePadding": 5, "labelFontSize": 12.5}}},
   "layer": [
    {"mark": {"type": "line", "color": "#000000", "strokeWidth": 1.2}, "encoding": {"y": {"field": "value", "type": "quantitative", "scale": {"domain": [92, 99], "nice": false, "zero": false}, "axis": {"title": "Waist circumference (cm)", "values": [92, 93, 94, 95, 96, 97, 98, 99], "tickCount": 100, "format": ".2~f", "labelOverlap": false, "minExtent": 30, "maxExtent": 30, "titlePadding": 0}}, "detail": {"field": "group", "type": "nominal"}}},
    {"mark": {"type": "rule", "color": "#000000"}, "encoding": {"y": {"field": "lo", "type": "quantitative"}, "y2": {"field": "hi"}}},
    {"mark": {"type": "tick", "color": "#000000", "size": 6, "thickness": 1}, "encoding": {"y": {"field": "lo", "type": "quantitative"}}},
    {"mark": {"type": "tick", "color": "#000000", "size": 6, "thickness": 1}, "encoding": {"y": {"field": "hi", "type": "quantitative"}}},
    {"mark": {"type": "point", "filled": true, "color": "#000000", "size": 45, "opacity": 1}, "encoding": {"y": {"field": "value", "type": "quantitative"},
      "shape": {"field": "group", "type": "nominal", "sort": ["JTTZ", "Metformin"], "scale": {"range": ["diamond", "triangle-up"]}, "legend": null}}},
    {"transform": [{"filter": "false"}], "mark": {"type": "point", "shape": "M-3,0L3,0M0,-1L0.75,0L0,1L-0.75,0Z", "filled": true, "fill": "#000000", "stroke": "#000000", "strokeWidth": 1.2, "size": 64, "opacity": 1},
     "encoding": {"strokeDash": {"field": "group", "type": "nominal", "scale": {"domain": ["JTTZ"], "range": [[1, 0]]}, "legend": {"title": null, "orient": "none", "legendX": 4.5, "legendY": 133.5, "labelOffset": 10.5, "symbolSize": 64, "symbolType": "M-3,0L3,0M0,-1L0.75,0L0,1L-0.75,0Z", "symbolStrokeWidth": 1.2, "symbolStrokeColor": "#000000", "symbolFillColor": "#000000"}}}},
    {"transform": [{"filter": "false"}], "mark": {"type": "point", "shape": "M-3,0L3,0M0,-0.85L0.95,0.75L-0.95,0.75Z", "filled": true, "fill": "#000000", "stroke": "#000000", "strokeWidth": 1.2, "size": 64, "opacity": 1},
     "encoding": {"strokeWidth": {"field": "group", "type": "ordinal", "scale": {"domain": ["Metformin"], "range": [1.2, 1.2]}, "legend": {"title": null, "orient": "none", "legendX": 4.5, "legendY": 149, "labelOffset": 10.5, "symbolSize": 64, "symbolType": "M-3,0L3,0M0,-0.85L0.95,0.75L-0.95,0.75Z", "symbolStrokeWidth": 1.2, "symbolStrokeColor": "#000000", "symbolFillColor": "#000000"}}}}
   ]}
 ]},
 {"spacing": 19.5, "resolve": {"scale": {"fill": "independent", "shape": "independent", "xOffset": "independent", "opacity": "independent", "strokeWidth": "independent", "strokeDash": "independent"}}, "hconcat": [
  {"spacing": 0, "resolve": {"scale": {"fill": "independent", "shape": "independent", "xOffset": "independent", "opacity": "independent", "strokeWidth": "independent", "strokeDash": "independent"}}, "vconcat": [
   {"width": 1, "height": 6, "data": {"name": "blank"}, "mark": {"type": "point", "opacity": 0, "size": 0, "strokeWidth": 0}},
   {"width": 92, "height": 133,
    "data": {"name": "change"}, "transform": [{"filter": "datum.panel == 'Waist'"}],
    "encoding": {"x": {"field": "group", "type": "nominal", "sort": ["JTTZ", "Metformin"], "scale": {"paddingInner": 0.2, "paddingOuter": 0.7}, "axis": {"orient": "top", "title": null, "labels": false, "ticks": false}}},
    "layer": [
     {"mark": {"type": "bar", "stroke": "#000000", "strokeWidth": 1}, "encoding": {"y": {"field": "value", "type": "quantitative", "scale": {"domain": [-3, 0], "nice": false}, "axis": {"title": ["Change in waist circumference", "of week 12 to week 0 (cm)"], "values": [0, -0.5, -1, -1.5, -2, -2.5, -3], "tickCount": 100, "format": ".2~f", "labelOverlap": false, "minExtent": 32, "maxExtent": 32, "titlePadding": 0}},
       "fill": {"field": "group", "type": "nominal", "sort": ["JTTZ", "Metformin"], "scale": {"range": ["#111111", "#c5cdcc"]}, "legend": {"title": null, "orient": "none", "legendX": -2, "legendY": 143, "rowPadding": 1.5, "labelOffset": 7, "symbolSize": 49}}}},
     {"mark": {"type": "rule", "color": "#000000"}, "encoding": {"y": {"field": "value", "type": "quantitative"}, "y2": {"field": "end"}}},
     {"mark": {"type": "tick", "color": "#000000", "size": 7, "thickness": 1}, "encoding": {"y": {"field": "end", "type": "quantitative"}}}
    ]}
  ]},
  {"spacing": 12.5, "resolve": {"scale": {"fill": "independent", "shape": "independent", "xOffset": "independent", "opacity": "independent", "strokeWidth": "independent", "strokeDash": "independent"}}, "hconcat": [
   {"spacing": 0, "resolve": {"scale": {"fill": "independent", "shape": "independent", "xOffset": "independent", "opacity": "independent", "strokeWidth": "independent", "strokeDash": "independent"}}, "vconcat": [
    {"width": 1, "height": 17, "data": {"name": "blank"}, "mark": {"type": "point", "opacity": 0, "size": 0, "strokeWidth": 0}},
    {"width": 143, "height": 100,
     "data": {"name": "lines"}, "transform": [{"filter": "datum.panel == 'Hip'"}],
     "encoding": {"x": {"field": "week", "type": "ordinal", "scale": {"type": "band", "paddingInner": 0, "paddingOuter": 0}, "axis": {"title": "Time (weeks)", "labelAngle": 0, "tickBand": "extent", "labelPadding": 1.5, "titlePadding": 5, "labelFontSize": 12.5}}},
     "layer": [
      {"mark": {"type": "line", "color": "#000000", "strokeWidth": 1.2}, "encoding": {"y": {"field": "value", "type": "quantitative", "scale": {"domain": [100, 107], "nice": false, "zero": false}, "axis": {"title": "Hip circumference (cm)", "values": [100, 101, 102, 103, 104, 105, 106, 107], "tickCount": 100, "format": ".2~f", "labelOverlap": false, "minExtent": 34, "maxExtent": 34, "titlePadding": 0}}, "detail": {"field": "group", "type": "nominal"}}},
      {"mark": {"type": "rule", "color": "#000000"}, "encoding": {"y": {"field": "lo", "type": "quantitative"}, "y2": {"field": "hi"}}},
      {"mark": {"type": "tick", "color": "#000000", "size": 6, "thickness": 1}, "encoding": {"y": {"field": "lo", "type": "quantitative"}}},
      {"mark": {"type": "tick", "color": "#000000", "size": 6, "thickness": 1}, "encoding": {"y": {"field": "hi", "type": "quantitative"}}},
      {"mark": {"type": "point", "filled": true, "color": "#000000", "size": 45, "opacity": 1}, "encoding": {"y": {"field": "value", "type": "quantitative"},
        "shape": {"field": "group", "type": "nominal", "sort": ["JTTZ", "Metformin"], "scale": {"range": ["diamond", "triangle-up"]}, "legend": null}}},
      {"transform": [{"filter": "false"}], "mark": {"type": "point", "shape": "M-3,0L3,0M0,-1L0.75,0L0,1L-0.75,0Z", "filled": true, "fill": "#000000", "stroke": "#000000", "strokeWidth": 1.2, "size": 64, "opacity": 1},
       "encoding": {"strokeDash": {"field": "group", "type": "nominal", "scale": {"domain": ["JTTZ"], "range": [[1, 0]]}, "legend": {"title": null, "orient": "none", "legendX": 4.5, "legendY": 142, "labelOffset": 10.5, "symbolSize": 64, "symbolType": "M-3,0L3,0M0,-1L0.75,0L0,1L-0.75,0Z", "symbolStrokeWidth": 1.2, "symbolStrokeColor": "#000000", "symbolFillColor": "#000000"}}}},
      {"transform": [{"filter": "false"}], "mark": {"type": "point", "shape": "M-3,0L3,0M0,-0.85L0.95,0.75L-0.95,0.75Z", "filled": true, "fill": "#000000", "stroke": "#000000", "strokeWidth": 1.2, "size": 64, "opacity": 1},
       "encoding": {"strokeWidth": {"field": "group", "type": "ordinal", "scale": {"domain": ["Metformin"], "range": [1.2, 1.2]}, "legend": {"title": null, "orient": "none", "legendX": 4.5, "legendY": 156.7, "labelOffset": 10.5, "symbolSize": 64, "symbolType": "M-3,0L3,0M0,-0.85L0.95,0.75L-0.95,0.75Z", "symbolStrokeWidth": 1.2, "symbolStrokeColor": "#000000", "symbolFillColor": "#000000"}}}}
     ]}
   ]},
   {"spacing": 0, "resolve": {"scale": {"fill": "independent", "shape": "independent", "xOffset": "independent", "opacity": "independent", "strokeWidth": "independent", "strokeDash": "independent"}}, "vconcat": [
    {"width": 1, "height": 1, "data": {"name": "blank"}, "mark": {"type": "point", "opacity": 0, "size": 0, "strokeWidth": 0}},
    {"width": 94, "height": 142,
     "data": {"name": "change"}, "transform": [{"filter": "datum.panel == 'Hip'"}],
     "encoding": {"x": {"field": "group", "type": "nominal", "sort": ["JTTZ", "Metformin"], "scale": {"paddingInner": 0.2, "paddingOuter": 0.7}, "axis": {"orient": "top", "title": null, "labels": false, "ticks": false}}},
     "layer": [
      {"mark": {"type": "bar", "stroke": "#000000", "strokeWidth": 1}, "encoding": {"y": {"field": "value", "type": "quantitative", "scale": {"domain": [-3.5, 0], "nice": false}, "axis": {"title": ["Change in hip circumference of", "week 12 to week 0 (cm)"], "values": [0, -0.5, -1, -1.5, -2, -2.5, -3, -3.5], "tickCount": 100, "format": ".2~f", "labelOverlap": false, "minExtent": 34, "maxExtent": 34, "titlePadding": 0}},
        "fill": {"field": "group", "type": "nominal", "sort": ["JTTZ", "Metformin"], "scale": {"range": ["#111111", "#c5cdcc"]}, "legend": {"title": null, "orient": "none", "legendX": -2, "legendY": 147, "rowPadding": 1.5, "labelOffset": 7, "symbolSize": 49}}}},
      {"mark": {"type": "rule", "color": "#000000"}, "encoding": {"y": {"field": "value", "type": "quantitative"}, "y2": {"field": "end"}}},
      {"mark": {"type": "tick", "color": "#000000", "size": 7, "thickness": 1}, "encoding": {"y": {"field": "end", "type": "quantitative"}}}
     ]}
   ]}
  ]}
 ]}
 ]}
]},
{"spacing": 0, "resolve": {"scale": {"fill": "independent", "shape": "independent", "xOffset": "independent", "opacity": "independent", "strokeWidth": "independent", "strokeDash": "independent"}}, "hconcat": [
 {"width": 1, "height": 1, "data": {"name": "blank"}, "mark": {"type": "point", "opacity": 0, "size": 0, "strokeWidth": 0}},
 {"spacing": 36.5, "resolve": {"scale": {"fill": "independent", "shape": "independent", "xOffset": "independent", "opacity": "independent", "strokeWidth": "independent", "strokeDash": "independent"}}, "hconcat": [
 {"spacing": 0, "resolve": {"scale": {"fill": "independent", "shape": "independent", "xOffset": "independent", "opacity": "independent", "strokeWidth": "independent", "strokeDash": "independent"}}, "vconcat": [
  {"width": 1, "height": 14.8, "data": {"name": "blank"}, "mark": {"type": "point", "opacity": 0, "size": 0, "strokeWidth": 0}},
  {"width": 128, "height": 129,
   "data": {"name": "grouped"}, "transform": [{"filter": "datum.panel == 'HOMAIR'"}],
   "encoding": {"x": {"field": "group", "type": "nominal", "sort": ["JTTZ", "Metformin"], "scale": {"paddingInner": 0.41, "paddingOuter": 0.2}, "axis": {"title": null, "labelAngle": 0, "tickBand": "extent", "labelPadding": 5, "labelFontSize": 12.5}},
                "xOffset": {"field": "time", "type": "nominal", "sort": ["0 week", "12 weeks"]}},
   "layer": [
    {"mark": {"type": "bar", "stroke": "#000000", "strokeWidth": 1}, "encoding": {"y": {"field": "value", "type": "quantitative", "scale": {"domain": [1, 1.7], "nice": false, "zero": false}, "axis": {"title": "HOMA-IR", "values": [1, 1.1, 1.2, 1.3, 1.4, 1.5, 1.6, 1.7], "tickCount": 100, "format": ".2~f", "labelOverlap": false, "minExtent": 27, "maxExtent": 27, "titlePadding": 0}}, "y2": {"datum": 1},
      "fill": {"field": "time", "type": "nominal", "sort": ["0 week", "12 weeks"], "scale": {"range": ["#ffffff", "#111111"]}, "legend": {"title": null, "orient": "none", "legendX": -3, "legendY": 153.7, "rowPadding": 2.5, "labelOffset": 7, "symbolSize": 49}}}},
    {"mark": {"type": "rule", "color": "#000000"}, "encoding": {"y": {"field": "value", "type": "quantitative"}, "y2": {"field": "top"}}},
    {"mark": {"type": "tick", "color": "#000000", "size": 7, "thickness": 1}, "encoding": {"y": {"field": "top", "type": "quantitative"}}},
    {"transform": [{"filter": "datum.sig != ''"}], "mark": {"type": "text", "baseline": "alphabetic", "fontSize": 12.5, "color": "#555555", "font": "Liberation Serif"}, "encoding": {"y": {"field": "top", "type": "quantitative"}, "text": {"field": "sig", "type": "nominal"}}}
   ]}
 ]},
 {"spacing": 14.5, "resolve": {"scale": {"fill": "independent", "shape": "independent", "xOffset": "independent", "opacity": "independent", "strokeWidth": "independent", "strokeDash": "independent"}}, "hconcat": [
  {"spacing": 0, "resolve": {"scale": {"fill": "independent", "shape": "independent", "xOffset": "independent", "opacity": "independent", "strokeWidth": "independent", "strokeDash": "independent"}}, "vconcat": [
   {"width": 1, "height": 3.8, "data": {"name": "blank"}, "mark": {"type": "point", "opacity": 0, "size": 0, "strokeWidth": 0}},
   {"width": 97, "height": 157,
    "data": {"name": "change"}, "transform": [{"filter": "datum.panel == 'HOMAIR'"}],
    "encoding": {"x": {"field": "group", "type": "nominal", "sort": ["JTTZ", "Metformin"], "scale": {"paddingInner": 0.2, "paddingOuter": 0.7}, "axis": {"orient": "top", "title": null, "labels": false, "ticks": false}}},
    "layer": [
     {"mark": {"type": "bar", "stroke": "#000000", "strokeWidth": 1}, "encoding": {"y": {"field": "value", "type": "quantitative", "scale": {"domain": [-0.3, 0], "nice": false}, "axis": {"title": "Change in HOMA-IR", "values": [0, -0.05, -0.1, -0.15, -0.2, -0.25, -0.3], "tickCount": 100, "format": ".2~f", "labelOverlap": false, "minExtent": 40, "maxExtent": 40, "titlePadding": 0}},
       "fill": {"field": "group", "type": "nominal", "sort": ["JTTZ", "Metformin"], "scale": {"range": ["#111111", "#c5cdcc"]}, "legend": {"title": null, "orient": "none", "legendX": -2, "legendY": 161, "rowPadding": 1.5, "labelOffset": 7, "symbolSize": 49}}}},
     {"mark": {"type": "rule", "color": "#000000"}, "encoding": {"y": {"field": "value", "type": "quantitative"}, "y2": {"field": "end"}}},
     {"mark": {"type": "tick", "color": "#000000", "size": 7, "thickness": 1}, "encoding": {"y": {"field": "end", "type": "quantitative"}}}
    ]}
  ]},
  {"spacing": 18.5, "resolve": {"scale": {"fill": "independent", "shape": "independent", "xOffset": "independent", "opacity": "independent", "strokeWidth": "independent", "strokeDash": "independent"}}, "hconcat": [
   {"spacing": 0, "resolve": {"scale": {"fill": "independent", "shape": "independent", "xOffset": "independent", "opacity": "independent", "strokeWidth": "independent", "strokeDash": "independent"}}, "vconcat": [
    {"width": 1, "height": 20.8, "data": {"name": "blank"}, "mark": {"type": "point", "opacity": 0, "size": 0, "strokeWidth": 0}},
    {"width": 130, "height": 123,
     "data": {"name": "grouped"}, "transform": [{"filter": "datum.panel == 'HOMAB'"}],
     "encoding": {"x": {"field": "group", "type": "nominal", "sort": ["JTTZ", "Metformin"], "scale": {"paddingInner": 0.41, "paddingOuter": 0.2}, "axis": {"title": null, "labelAngle": 0, "tickBand": "extent", "labelPadding": 5, "labelFontSize": 12.5}},
                  "xOffset": {"field": "time", "type": "nominal", "sort": ["0 week", "12 weeks"]}},
     "layer": [
      {"mark": {"type": "bar", "stroke": "#000000", "strokeWidth": 1}, "encoding": {"y": {"field": "value", "type": "quantitative", "scale": {"domain": [3, 4.2], "nice": false, "zero": false}, "axis": {"title": "HOMA-β", "values": [3, 3.2, 3.4, 3.6, 3.8, 4, 4.2], "tickCount": 100, "format": ".2~f", "labelOverlap": false, "minExtent": 31, "maxExtent": 31, "titlePadding": 0}}, "y2": {"datum": 3},
        "fill": {"field": "time", "type": "nominal", "sort": ["0 week", "12 weeks"], "scale": {"range": ["#ffffff", "#111111"]}, "legend": {"title": null, "orient": "none", "legendX": -3, "legendY": 153.7, "rowPadding": 2.5, "labelOffset": 7, "symbolSize": 49}}}},
      {"mark": {"type": "rule", "color": "#000000"}, "encoding": {"y": {"field": "value", "type": "quantitative"}, "y2": {"field": "top"}}},
      {"mark": {"type": "tick", "color": "#000000", "size": 7, "thickness": 1}, "encoding": {"y": {"field": "top", "type": "quantitative"}}},
      {"transform": [{"filter": "datum.sig != ''"}], "mark": {"type": "text", "baseline": "alphabetic", "fontSize": 12.5, "color": "#555555", "font": "Liberation Serif"}, "encoding": {"y": {"field": "top", "type": "quantitative"}, "text": {"field": "sig", "type": "nominal"}}}
     ]}
   ]},
   {"spacing": 0, "resolve": {"scale": {"fill": "independent", "shape": "independent", "xOffset": "independent", "opacity": "independent", "strokeWidth": "independent", "strokeDash": "independent"}}, "vconcat": [
    {"width": 1, "height": 9.8, "data": {"name": "blank"}, "mark": {"type": "point", "opacity": 0, "size": 0, "strokeWidth": 0}},
    {"width": 97, "height": 151,
     "data": {"name": "change"}, "transform": [{"filter": "datum.panel == 'HOMAB'"}],
     "encoding": {"x": {"field": "group", "type": "nominal", "sort": ["JTTZ", "Metformin"], "scale": {"paddingInner": 0.2, "paddingOuter": 0.7}, "axis": {"orient": "bottom", "title": null, "labels": false, "ticks": false}}},
     "layer": [
      {"mark": {"type": "bar", "stroke": "#000000", "strokeWidth": 1}, "encoding": {"y": {"field": "value", "type": "quantitative", "scale": {"domain": [0, 0.4], "nice": false}, "axis": {"title": "Change in HOMA-β", "values": [0, 0.05, 0.1, 0.15, 0.2, 0.25, 0.3, 0.35, 0.4], "tickCount": 100, "format": ".2~f", "labelOverlap": false, "minExtent": 35, "maxExtent": 35, "titlePadding": 0}},
        "fill": {"field": "group", "type": "nominal", "sort": ["JTTZ", "Metformin"], "scale": {"range": ["#111111", "#c5cdcc"]}, "legend": {"title": null, "orient": "none", "legendX": -2, "legendY": 162.7, "rowPadding": 1.5, "labelOffset": 7, "symbolSize": 49}}}},
      {"mark": {"type": "rule", "color": "#000000"}, "encoding": {"y": {"field": "value", "type": "quantitative"}, "y2": {"field": "end"}}},
      {"mark": {"type": "tick", "color": "#000000", "size": 7, "thickness": 1}, "encoding": {"y": {"field": "end", "type": "quantitative"}}}
     ]}
   ]}
  ]}
 ]}
 ]}
]}
]
}
